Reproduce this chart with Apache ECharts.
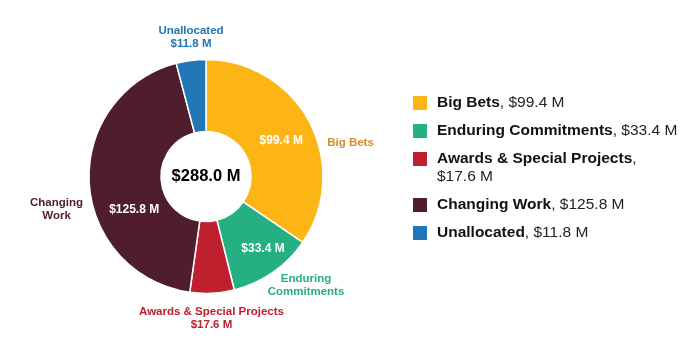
<!DOCTYPE html>
<html>
<head>
<meta charset="utf-8">
<script src="https://cdn.jsdelivr.net/npm/echarts@6/dist/echarts.min.js"></script>
<style>
  html, body { margin: 0; padding: 0; background: #fff; }
  #chart { width: 700px; height: 354px; }
</style>
</head>
<body>
<div id="chart"></div>
<script>
  // Budget allocation, $ millions
  var names = ['Big Bets', 'Enduring Commitments', 'Awards & Special Projects', 'Changing Work', 'Unallocated'];
  var values = [99.4, 33.4, 17.6, 125.8, 11.8];
  var sliceLabels = ['Big Bets', 'Enduring\nCommitments', 'Awards & Special Projects', 'Changing\nWork', 'Unallocated'];
  var showInside = [true, true, false, true, false];
  var totalText = '$288.0 M';

  var colors = ['#FDB515', '#27AF84', '#BE202E', '#4F1D2B', '#2276B6'];
  var labelColors = ['#DA8A2C', '#27AF84', '#BE202E', '#4F1D2B', '#2276B6'];

  var FONT = '"Liberation Sans", Arial, Helvetica, sans-serif';
  var CX = 206, CY = 176.5, R0 = 45, R1 = 117;

  function money(v) { return '$' + v.toFixed(1) + ' M'; }

  // nudges for the inside value labels
  var insideShift = [[1, 3], [9, 3], [0, 0], [12, 28], [0, 0]];
  // outside name labels, offset from pie centre
  var outsideShift = [[144.5, -33.5], [100, 109], [5.5, 141.5], [-149.5, 33], [-15, -139]];

  var pieData = values.map(function (v, i) {
    return { name: names[i], value: v, itemStyle: { color: colors[i] } };
  });

  var outerData = values.map(function (v, i) {
    var txt = sliceLabels[i];
    if (i === 2 || i === 4) { txt += '\n' + money(v); }
    return {
      name: names[i],
      value: v,
      label: { formatter: txt, color: labelColors[i] }
    };
  });

  function legendItem(i) {
    var d = { name: names[i] };
    if (i === 2) { d.textStyle = { padding: [18, 0, 0, 4] }; }
    return d;
  }

  function legendFormatter(name) {
    var i = names.indexOf(name);
    var sep = i === 2 ? ',\n' : ', ';
    return '{b|' + name + '}{r|' + sep + money(values[i]) + '}';
  }

  var legendBase = {
    orient: 'vertical',
    left: 411,
    padding: 0,
    itemWidth: 16,
    itemHeight: 16,
    itemGap: 10,
    icon: 'rect',
    selectedMode: false,
    formatter: legendFormatter,
    textStyle: {
      padding: [0, 0, 0, 4],
      lineHeight: 18,
      rich: {
        b: { fontFamily: FONT, fontSize: 15.5, fontWeight: 'bold', color: '#111', lineHeight: 18 },
        r: { fontFamily: FONT, fontSize: 15.5, color: '#222', lineHeight: 18 }
      }
    }
  };

  var chart = echarts.init(document.getElementById('chart'));
  chart.setOption({
    color: colors,
    animation: false,
    title: {
      text: totalText,
      left: CX,
      top: CY,
      textAlign: 'center',
      textVerticalAlign: 'middle',
      padding: 0,
      textStyle: { fontFamily: FONT, fontSize: 16.5, fontWeight: 'bold', color: '#000' }
    },
    legend: [
      Object.assign({}, legendBase, { top: 94, data: [0, 1].map(legendItem) }),
      Object.assign({}, legendBase, { top: 132, data: [2, 3, 4].map(legendItem) })
    ],
    series: [
      {
        name: 'Allocation',
        type: 'pie',
        center: [CX, CY],
        radius: [R0, R1],
        startAngle: 90,
        clockwise: true,
        avoidLabelOverlap: false,
        itemStyle: { borderColor: '#fff', borderWidth: 1.5 },
        label: {
          show: true,
          position: 'inside',
          fontFamily: FONT,
          fontSize: 12,
          fontWeight: 'bold',
          color: '#fff',
          formatter: function (p) { return showInside[p.dataIndex] ? money(p.value) : ''; }
        },
        labelLine: { show: false },
        labelLayout: function (p) {
          var s = insideShift[p.dataIndex];
          return { dx: s[0], dy: s[1] };
        },
        emphasis: { disabled: true },
        data: pieData
      },
      {
        name: 'Names',
        type: 'pie',
        center: [CX, CY],
        radius: [R0, R1],
        startAngle: 90,
        clockwise: true,
        silent: true,
        avoidLabelOverlap: false,
        itemStyle: { color: 'rgba(0,0,0,0)' },
        label: {
          show: true,
          position: 'center',
          fontFamily: FONT,
          fontSize: 11.5,
          fontWeight: 'bold',
          lineHeight: 13,
          align: 'center'
        },
        labelLine: { show: false },
        labelLayout: function (p) {
          var s = outsideShift[p.dataIndex];
          return { dx: s[0], dy: s[1], align: 'center', verticalAlign: 'middle' };
        },
        emphasis: { disabled: true },
        data: outerData
      }
    ]
  });
</script>
</body>
</html>
